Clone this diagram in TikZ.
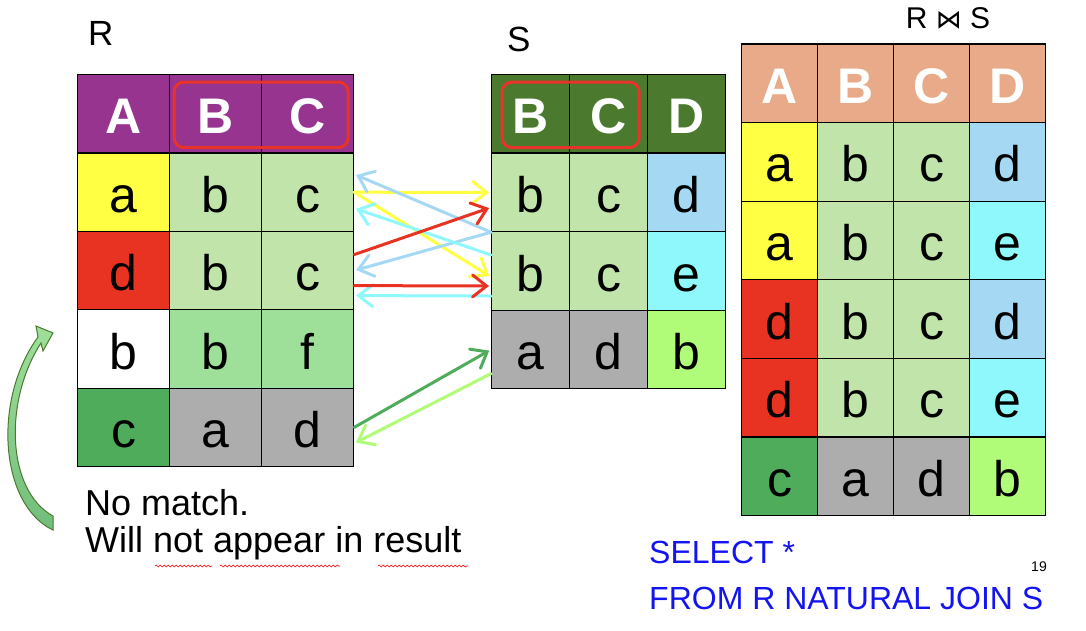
\documentclass[tikz,border=0pt]{standalone}
\usepackage{fontspec}
\setmainfont{Liberation Sans}
\newfontfamily\symfont{DejaVu Sans}
\usetikzlibrary{arrows.meta,decorations.pathmorphing}

% cell colours
\definecolor{hdrR}{HTML}{963490}
\definecolor{hdrS}{HTML}{4B7A2F}
\definecolor{hdrRS}{HTML}{E8AA88}
\definecolor{yel}{HTML}{FFFF44}
\definecolor{rd}{HTML}{E83323}
\definecolor{lgrn}{HTML}{C1E4AA}
\definecolor{mgrn}{HTML}{9EE099}
\definecolor{dgrn}{HTML}{4FAC5B}
\definecolor{gry}{HTML}{ADADAD}
\definecolor{lblu}{HTML}{A5D8F2}
\definecolor{cyn}{HTML}{8FF8FC}
\definecolor{lime}{HTML}{B0FC78}
\definecolor{keyred}{HTML}{E8332A}
\definecolor{sqlblue}{HTML}{1414F0}

\tikzset{
  cell/.style={draw=black, line width=1.2pt, minimum width=92pt, minimum height=78.4pt,
    inner sep=0pt, anchor=north west, text height=40pt, text depth=0pt,
    font=\fontsize{50}{50}\selectfont},
  hdr/.style={cell, text=white, font=\fontsize{50}{50}\selectfont\bfseries},
  link/.style={line width=3pt, line cap=round, shorten >=2pt,
    -{Straight Barb[length=14pt,width=22pt,line cap=round]}},
  keybox/.style={draw=keyred, line width=3pt, rounded corners=10pt},
  spell/.style={draw=red, line width=0.6pt, decorate,
    decoration={snake,amplitude=1pt,segment length=4pt}},
}

\begin{document}
\begin{tikzpicture}[x=1pt,y=-1pt]
\useasboundingbox (0,0) rectangle (1086,630);

% table R
\foreach \hd [count=\j] in {A,B,C}
  \node[hdr,fill=hdrR] (R-0-\j) at ({77+92*(\j-1)},74) {\hd};
\foreach \va/\ca/\vb/\cb/\vc/\cc [count=\i] in
  {a/yel/b/lgrn/c/lgrn, d/rd/b/lgrn/c/lgrn, b/white/b/mgrn/f/mgrn, c/dgrn/a/gry/d/gry} {
  \node[cell,fill=\ca] (R-\i-1) at (77,{74+78.4*\i}) {\va};
  \node[cell,fill=\cb] (R-\i-2) at (169,{74+78.4*\i}) {\vb};
  \node[cell,fill=\cc] (R-\i-3) at (261,{74+78.4*\i}) {\vc};
}
\draw[keybox] ([xshift=5pt,yshift=-8pt]R-0-2.north west) rectangle ([xshift=-6pt,yshift=6pt]R-0-3.south east);

% table S
\foreach \hd [count=\j] in {B,C,D}
  \node[hdr,fill=hdrS,minimum width=78pt] (S-0-\j) at ({491+78*(\j-1)},74) {\hd};
\foreach \va/\ca/\vb/\cb/\vc/\cc [count=\i] in
  {b/lgrn/c/lgrn/d/lblu, b/lgrn/c/lgrn/e/cyn, a/gry/d/gry/b/lime} {
  \node[cell,fill=\ca,minimum width=78pt] (S-\i-1) at (491,{74+78.6*\i}) {\va};
  \node[cell,fill=\cb,minimum width=78pt] (S-\i-2) at (569,{74+78.6*\i}) {\vb};
  \node[cell,fill=\cc,minimum width=78pt] (S-\i-3) at (647,{74+78.6*\i}) {\vc};
}
\draw[keybox] ([xshift=11pt,yshift=-8pt]S-0-1.north west) rectangle ([xshift=-9pt,yshift=6pt]S-0-2.south east);

% table R join S
\foreach \hd [count=\j] in {A,B,C,D}
  \node[hdr,fill=hdrRS,minimum width=76pt,minimum height=78.6pt] (J-0-\j) at ({741+76*(\j-1)},43.3) {\hd};
\foreach \va/\ca/\vb/\cb/\vc/\cc/\vd/\cd [count=\i] in
  {a/yel/b/lgrn/c/lgrn/d/lblu, a/yel/b/lgrn/c/lgrn/e/cyn,
   d/rd/b/lgrn/c/lgrn/d/lblu, d/rd/b/lgrn/c/lgrn/e/cyn, c/dgrn/a/gry/d/gry/b/lime} {
  \node[cell,fill=\ca,minimum width=76pt,minimum height=78.6pt] (J-\i-1) at (741,{43.3+78.6*\i}) {\va};
  \node[cell,fill=\cb,minimum width=76pt,minimum height=78.6pt] (J-\i-2) at (817,{43.3+78.6*\i}) {\vb};
  \node[cell,fill=\cc,minimum width=76pt,minimum height=78.6pt] (J-\i-3) at (893,{43.3+78.6*\i}) {\vc};
  \node[cell,fill=\cd,minimum width=76pt,minimum height=78.6pt] (J-\i-4) at (969,{43.3+78.6*\i}) {\vd};
}

% table titles
\node[anchor=base west,font=\fontsize{35}{35}\selectfont,inner sep=0pt] (titleR) at (88,45) {R};
\node[anchor=base west,font=\fontsize{35}{35}\selectfont,inner sep=0pt] (titleS) at (507,51) {S};
\node[anchor=base,font=\fontsize{30}{30}\selectfont,inner sep=0pt] (titleJ) at (948,28) {R {\symfont\fontsize{26}{26}\selectfont ⋈} S};

% matching rows
\draw[link,yel] (R-1-3.east) -- (S-1-1.west);
\draw[link,yel] (R-1-3.east) -- ([yshift=-6pt]S-2-1.west);
\draw[link,lblu] (S-1-1.south west) -- ([yshift=18pt]R-1-3.east);
\draw[link,lblu] (S-1-1.south west) -- (R-2-3.east);
\draw[link,cyn] ([yshift=16pt]S-2-1.west) -- ([yshift=-16pt]R-1-3.east);
\draw[link,cyn] ([yshift=-25pt]S-2-1.west) -- ([yshift=-25pt]R-2-3.east);
\draw[link,rd] ([yshift=16pt]R-2-3.east) -- ([yshift=-15pt]S-1-1.west);
\draw[link,rd] ([yshift=-15pt]R-2-3.east) -- ([yshift=-15pt]S-2-1.west);
\draw[link,dgrn] (R-4-3.east) -- (S-3-1.west);
\draw[link,lime] ([yshift=-24pt]S-3-1.west) -- ([yshift=-16pt]R-4-3.east);

% row b f has no partner
\shade[top color=mgrn, bottom color=dgrn!80, draw=hdrS, line width=1pt]
  (53,530) .. controls (0,505) and (-8,400) .. (38,337) -- (36,326) -- (53,333)
  -- (43,351) -- (41,343) .. controls (4,400) and (6,490) .. (53,516) -- cycle;
\node[anchor=base west,font=\fontsize{36}{36}\selectfont,inner sep=0pt] (note1) at (85,515) {No match.};
\node[anchor=base west,font=\fontsize{36}{36}\selectfont,inner sep=0pt] (note2) at (85,552) {Will not appear in result};
\draw[spell] (155,566) -- (212,566);
\draw[spell] (220,566) -- (340,566);
\draw[spell] (378,566) -- (468,566);

% query
\node[anchor=base west,font=\fontsize{32}{32}\selectfont,text=sqlblue,inner sep=0pt] (sql1) at (649,563) {SELECT *};
\node[anchor=base west,font=\fontsize{32}{32}\selectfont,text=sqlblue,inner sep=0pt] (sql2) at (649,609) {FROM R NATURAL JOIN S};
\node[anchor=base west,font=\fontsize{14}{14}\selectfont,inner sep=0pt] (pagenum) at (1031,571) {19};

\end{tikzpicture}
\end{document}
